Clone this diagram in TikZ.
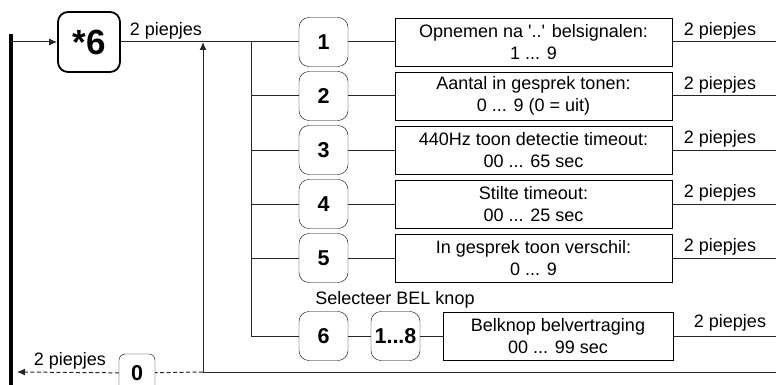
\documentclass[tikz,border=0pt]{standalone}
\usepackage{fontspec}
\setmainfont{Liberation Sans}
\usetikzlibrary{arrows.meta}

\begin{document}
\begin{tikzpicture}[x=1pt,y=-1pt,
    font=\fontsize{18}{22}\selectfont,
    keybox/.style={rectangle, draw, rounded corners=10pt, minimum width=49pt, minimum height=49pt,
        inner sep=0pt, font=\fontsize{21.5}{22}\selectfont\bfseries},
    infobox/.style={rectangle, draw, minimum height=48pt, inner sep=0pt, align=center},
    link/.style={draw=black!85, line width=1pt},
    tip/.style={-{Latex[length=8pt,width=7pt]}}]
  \useasboundingbox (0,0) rectangle (776,385);
  \clip (0,0) rectangle (776,385);

  % main rail and entry
  \draw[line width=4pt] (11,34) -- (11,392);
  \coordinate (in) at (11,42);
  \node[keybox, minimum width=62pt, minimum height=60pt, line width=1.8pt, rounded corners=10pt,
        font=\fontsize{35}{36}\selectfont\bfseries] (menu) at (89,42) {*6};
  \draw[link,tip] (in) -- (menu);
  \node (pm) at (166,31) {2 piepjes};
  \coordinate (j) at (251,42);
  \coordinate (up) at (203,42);

  % settings 1 ... 5
  \foreach \n/\ta/\tb in {1/{Opnemen na \textquotesingle..\textquotesingle{} belsignalen:}/{1 ... 9},
                          2/{Aantal in gesprek tonen:}/{0 ... 9 (0 = uit)},
                          3/{440Hz toon detectie timeout:}/{00 ... 65 sec},
                          4/{Stilte timeout:}/{00 ... 25 sec},
                          5/{In gesprek toon verschil:}/{0 ... 9}}{
    \node[keybox] (k\n) at (323.5,{42+54*(\n-1)}) {\n};
    \node[infobox, minimum width=277pt] (d\n) at (533.5,{42+54*(\n-1)}) {\ta\\\tb};
    \node (p\n) at (720,{31+54*(\n-1)}) {2 piepjes};
    \coordinate (e\n) at (776,{42+54*(\n-1)});
    \draw[link] (k\n) -- (d\n) -- (e\n);
    \draw[link] (j |- k\n) -- (k\n);
  }
  \draw[link] (menu) -- (k1);

  % setting 6
  \node (sel) at (395,300) {Selecteer BEL knop};
  \node[keybox] (k6) at (323.5,336) {6};
  \node[keybox] (k18) at (395.5,336) {1...8};
  \node[infobox, minimum width=230pt] (d6) at (558,336) {Belknop belvertraging\\00 ... 99 sec};
  \node (p6) at (730,323) {2 piepjes};
  \coordinate (e6) at (776,336);
  \draw[link] (j) |- (k6);
  \draw[link] (k6) -- (k18) -- (d6) -- (e6);

  % return
  \coordinate (b0) at (776,372);
  \coordinate (b1) at (203,372);
  \coordinate (out) at (17,372);
  \node[keybox, minimum width=36pt, minimum height=38pt, rounded corners=6pt] (k0) at (137,373) {0};
  \node (pb) at (70,361) {2 piepjes};
  \draw[link] (b0) -- (b1);
  \draw[link,tip] (b1) -- (up);
  \draw[link,dash pattern=on 4pt off 2.5pt] (b1) -- (k0);
  \draw[link,dash pattern=on 4pt off 2.5pt,tip] (k0) -- (out);
\end{tikzpicture}
\end{document}
